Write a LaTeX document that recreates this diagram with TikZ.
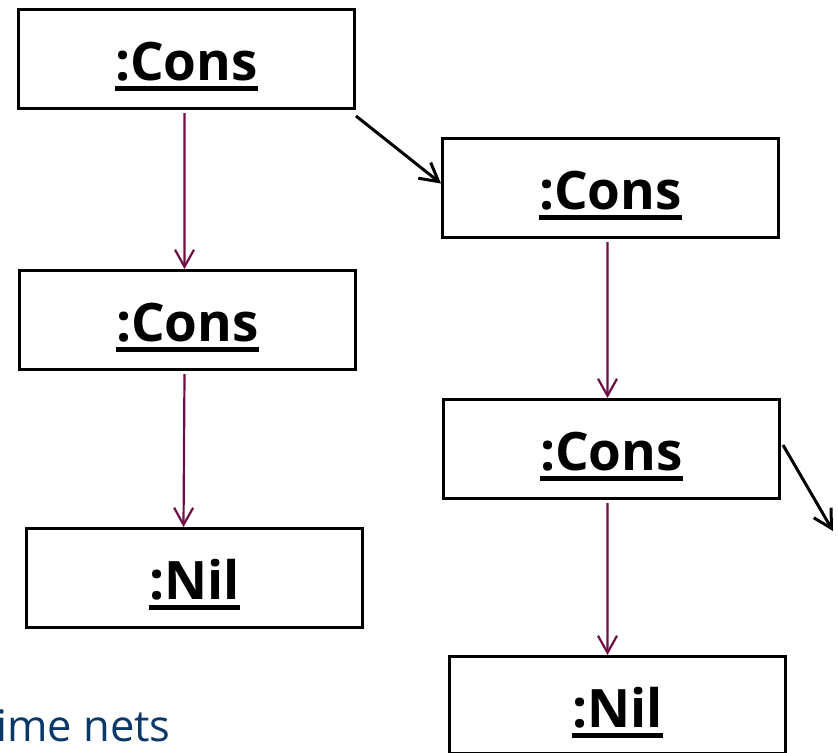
\documentclass[tikz,border=0pt]{standalone}
\usepackage{fontspec}
\setmainfont{Open Sans}
\usetikzlibrary{arrows.meta}
\definecolor{linkred}{RGB}{110,14,66}
\definecolor{captionblue}{RGB}{12,56,104}
% underlined object name with a heavy rule below the baseline
\newcommand\ulbox[1]{\setbox0\hbox{#1}\rlap{\rule[-10.5bp]{\wd0}{5bp}}\box0}

\begin{document}
\begin{tikzpicture}[x=1bp,y=-1bp,
  obj/.style={draw=black, line width=3bp, minimum width=336bp, minimum height=99bp,
    inner sep=0pt, anchor=north west},
  lbl/.style={anchor=base, inner sep=0pt,
    font=\bfseries\fontsize{53bp}{64bp}\selectfont},
  ref/.style={draw=linkred, line width=2.2bp,
    -{Straight Barb[length=17bp,width=19bp,line width=2.2bp]}},
  link/.style={draw=black, line width=3bp,
    -{Straight Barb[length=18bp,width=20bp,line width=3bp]}},
  caption/.style={anchor=base west, inner sep=0pt, text=captionblue,
    font=\fontsize{43.5bp}{52bp}\selectfont}]
\useasboundingbox (0,0) rectangle (838,753);

% object boxes
\node[obj] (c1) at (17,8) {};
\node[obj] (c2) at (441,137) {};
\node[obj] (c3) at (18,269) {};
\node[obj] (c4) at (442,398) {};
\node[obj] (n1) at (25,527) {};
\node[obj, minimum height=97bp] (n2) at (448,655) {};

% object names
\node[lbl] (t1) at ([yshift=-21bp]c1.center) {\ulbox{:Cons}};
\node[lbl] (t2) at ([yshift=-21bp]c2.center) {\ulbox{:Cons}};
\node[lbl] (t3) at ([yshift=-21bp]c3.center) {\ulbox{:Cons}};
\node[lbl] (t4) at ([yshift=-21bp]c4.center) {\ulbox{:Cons}};
\node[lbl] (t5) at ([yshift=-21bp]n1.center) {\ulbox{:Nil}};
\node[lbl] (t6) at ([yshift=-22bp]n2.center) {\ulbox{:Nil}};

% head links
\draw[ref] ([xshift=-2bp,yshift=-3bp]c1.south) -- ([xshift=-3bp]c3.north);
\draw[ref] ([xshift=-3bp,yshift=-3bp]c3.south) -- ([xshift=-11bp]n1.north);
\draw[ref] ([xshift=-3bp,yshift=-3bp]c2.south) -- ([xshift=-4bp]c4.north);
\draw[ref] ([xshift=-4bp,yshift=-3bp]c4.south) -- ([xshift=-10bp]n2.north);

% tail links
\coordinate (away) at (833,531);
\draw[link] ([yshift=-6bp]c1.south east) -- ([yshift=4.5bp]c2.west);
\draw[link] ([xshift=2bp,yshift=4bp]c4.east) -- (away);

% caption fragment
\node[caption] (cap) at (-4,741) {ime nets};
\end{tikzpicture}
\end{document}
